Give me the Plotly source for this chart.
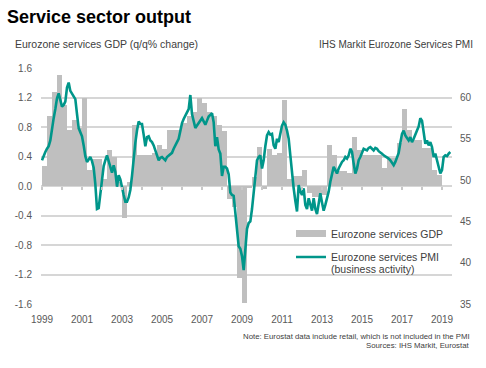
import plotly.graph_objects as go

# ---------------- data ----------------
gdp_start_year = 1999
# Eurozone services GDP, q/q % change, 1999Q1 .. 2018Q4
gdp_values = [
    0.27, 0.95, 1.27, 1.51,    # 1999
    1.10, 0.76, 0.89, 0.78,    # 2000
    1.20, 0.22, 0.36, 0.36,    # 2001
    0.10, 0.49, 0.40, 0.06,    # 2002
    -0.44, 0.06, 0.83, 0.42,   # 2003
    0.42, 0.42, 0.45, 0.55,    # 2004
    0.50, 0.76, 0.76, 0.76,    # 2005
    0.85, 0.95, 1.00, 1.20,    # 2006
    1.12, 1.00, 0.95, 0.83,    # 2007
    0.75, -0.17, -0.28, -1.25, # 2008
    -1.58, -0.02, 0.12, 0.53,  # 2009
    -0.04, 0.50, 0.42, 0.45,   # 2010
    1.17, 0.10, 0.13, 0.14,    # 2011
    0.22, -0.10, -0.15, -0.15, # 2012
    -0.12, 0.56, 0.42, 0.20,   # 2013
    0.20, 0.17, 0.67, 0.49,    # 2014
    0.42, 0.42, 0.42, 0.42,    # 2015
    0.24, 0.38, 0.38, 0.58,    # 2016
    1.04, 0.76, 0.62, 0.62,    # 2017
    0.51, 0.51, 0.22, 0.15,    # 2018
]

pmi_start_year = 1999
# IHS Markit Eurozone Services PMI (business activity), monthly from Jan 1999
pmi_values = [
    52.4, 53.0, 53.4, 53.8, 54.1, 54.8, 56.5, 57.5, 58.6, 59.9, 60.5, 59.5,  # 1999
    58.9, 59.1, 59.5, 61.2, 61.8, 60.8, 60.5, 60.1, 59.8, 58.0, 56.3, 55.8,  # 2000
    55.3, 54.2, 52.9, 52.2, 52.5, 52.8, 52.3, 51.5, 49.5, 46.5, 46.6, 48.2,  # 2001
    50.5, 51.7, 52.4, 53.0, 52.3, 51.5, 50.9, 51.8, 51.0, 49.2, 50.6, 50.1,  # 2002
    49.0, 48.2, 47.4, 47.4, 47.9, 48.8, 50.5, 52.8, 54.5, 56.0, 57.1, 56.8,  # 2003
    56.8, 55.5, 54.1, 55.2, 55.3, 54.8, 54.6, 54.2, 53.6, 52.9, 52.4, 52.7,  # 2004
    52.8, 52.6, 52.4, 52.8, 53.0, 53.1, 53.3, 53.8, 54.3, 54.6, 55.0, 56.0,  # 2005
    56.9, 57.4, 57.9, 58.2, 58.6, 60.3, 58.0, 57.0, 56.3, 56.6, 56.9, 57.2,  # 2006
    57.5, 57.1, 56.7, 57.2, 57.7, 57.9, 58.1, 57.0, 54.1, 55.2, 53.7, 53.2,  # 2007
    50.5, 51.6, 51.6, 51.4, 50.7, 48.5, 48.2, 48.1, 46.0, 43.5, 42.0, 41.7,  # 2008
    40.8, 39.1, 41.5, 44.1, 44.8, 45.0, 46.5, 48.3, 50.0, 52.4, 52.8, 53.0,  # 2009
    51.4, 52.4, 54.1, 55.4, 55.8, 55.5, 55.6, 54.2, 53.8, 55.0, 54.6, 55.8,  # 2010
    56.6, 57.0, 56.7, 56.0, 55.0, 53.0, 50.6, 49.0, 47.5, 46.2, 49.4, 48.6,  # 2011
    48.2, 49.0, 47.0, 46.5, 47.8, 47.0, 46.3, 47.8, 46.5, 45.9, 47.0, 48.4,  # 2012
    47.3, 46.3, 47.0, 47.8, 48.6, 49.8, 50.8, 51.6, 51.2, 50.8, 51.4, 51.8,  # 2013
    52.2, 52.4, 52.8, 52.6, 53.0, 53.8, 53.4, 52.0, 50.8, 51.4, 52.4, 52.8,  # 2014
    53.4, 53.8, 53.7, 53.6, 53.9, 54.0, 53.8, 53.6, 53.9, 53.8, 53.5, 53.4,  # 2015
    53.2, 53.0, 52.9, 52.8, 52.6, 52.4, 52.1, 51.8, 52.2, 52.7, 53.3, 54.5,  # 2016
    55.6, 56.0, 55.4, 55.1, 54.8, 55.2, 54.6, 55.0, 55.4, 56.0, 56.5, 57.5,  # 2017
    57.2, 55.8, 54.4, 54.8, 54.2, 54.6, 54.0, 52.8, 53.2, 52.4, 51.6, 50.8,  # 2018
    51.2, 52.8, 53.0, 52.9, 53.2, 53.4,                                      # 2019
]

year_ticks = list(range(1999, 2020, 2))
year_labels = [str(y) for y in year_ticks]
gdp_ticks = [-1.6, -1.2, -0.8, -0.4, 0.0, 0.4, 0.8, 1.2, 1.6]
pmi_ticks = [35, 40, 45, 50, 55, 60]

title_text = "Service sector output"
left_title = "Eurozone services GDP (q/q% change)"
right_title = "IHS Markit Eurozone Services PMI"
gdp_name = "Eurozone services GDP"
pmi_name = "Eurozone services PMI"
pmi_name_2 = "(business activity)"
note_text = "Note: Eurostat data include retail, which is not included in the PMI"
source_text = "Sources: IHS Markit, Eurostat"

# ---------------- derived x positions ----------------
gdp_x = [gdp_start_year + i * 0.25 + 0.125 for i in range(len(gdp_values))]
pmi_x = [pmi_start_year + i / 12 for i in range(len(pmi_values))]

# ---------------- layout geometry ----------------
W, H = 486, 368
L, R, T, B = 41, 452, 68, 304
BAR_COLOR = "#BFBFBF"
LINE_COLOR = "#00968A"
GRID = "#D6D6D6"
FONT = "Liberation Sans, Arial, sans-serif"
XRANGE = [1998.95, 2019.5]


def px(x):
    return (x - L) / (R - L)


def py(y):
    return (B - y) / (B - T)


fig = go.Figure()
fig.add_trace(go.Bar(
    x=gdp_x, y=gdp_values, width=0.25,
    marker=dict(color=BAR_COLOR, line=dict(width=0)),
    showlegend=False, yaxis="y", hoverinfo="skip",
))
# legend entry for bars (thick grey line symbol as in the reference)
fig.add_trace(go.Scatter(
    x=[None], y=[None], mode="lines", name=gdp_name,
    line=dict(color=BAR_COLOR, width=7), yaxis="y", legend="legend",
))
fig.add_trace(go.Scatter(
    x=pmi_x, y=pmi_values, mode="lines", name=pmi_name,
    line=dict(color=LINE_COLOR, width=2.6), yaxis="y2", legend="legend2",
    hoverinfo="skip",
))
# helper axis carrying the small yearly tick marks on the zero line
fig.add_trace(go.Scatter(
    x=[None], y=[None], xaxis="x2", yaxis="y", showlegend=False, hoverinfo="skip",
))

pmi_top = 35 + 25 * 3.2 / 2.8
legend_common = dict(
    xanchor="left", yanchor="middle", bgcolor="rgba(0,0,0,0)",
    font=dict(size=10.5, color="#404040"), itemwidth=30,
)

fig.update_layout(
    width=W, height=H,
    margin=dict(l=L, r=W - R, t=T, b=H - B, pad=0),
    paper_bgcolor="white", plot_bgcolor="white",
    font=dict(family=FONT, size=10, color="#595959"),
    bargap=0,
    xaxis=dict(
        range=XRANGE, tickvals=year_ticks, ticktext=year_labels,
        showgrid=False, zeroline=False, showline=False, ticks="",
        ticklabelstandoff=8, tickfont=dict(size=10, color="#595959"),
    ),
    xaxis2=dict(
        range=XRANGE, overlaying="x", anchor="free", position=0.5,
        tick0=1999, dtick=1, ticks="outside", ticklen=3, tickwidth=1.5, tickcolor="#C8C8C8",
        showticklabels=False, showgrid=False, zeroline=False, showline=False,
    ),
    yaxis=dict(
        range=[-1.6, 1.6], tickvals=gdp_ticks,
        ticktext=[f"{v:.1f}" for v in gdp_ticks],
        showgrid=True, gridcolor=GRID, gridwidth=1.5, zeroline=False,
        showline=False, ticks="", ticklabelstandoff=8,
        tickfont=dict(size=10, color="#595959"),
    ),
    yaxis2=dict(
        range=[35, pmi_top], tickvals=pmi_ticks, overlaying="y", side="right",
        showgrid=False, zeroline=False, showline=False, ticks="",
        ticklabelstandoff=7, tickfont=dict(size=10, color="#595959"),
    ),
    legend=dict(x=px(291), y=py(233.5), **legend_common),
    legend2=dict(x=px(291), y=py(257), **legend_common),
)

annotations = [
    dict(text=f"<b>{title_text}</b>", x=px(5), y=py(17), xanchor="left", yanchor="middle",
         font=dict(size=18, color="#000000")),
    dict(text=left_title, x=px(13), y=py(44), xanchor="left", yanchor="middle",
         font=dict(size=10.5, color="#404040")),
    dict(text=right_title, x=px(475), y=py(44), xanchor="right", yanchor="middle",
         font=dict(size=10, color="#404040")),
    dict(text=pmi_name_2, x=px(329), y=py(268.5), xanchor="left", yanchor="middle",
         font=dict(size=10.5, color="#404040")),
    dict(text=note_text, x=px(472), y=py(336), xanchor="right", yanchor="middle",
         font=dict(size=7.8, color="#404040")),
    dict(text=source_text, x=px(472), y=py(345.5), xanchor="right", yanchor="middle",
         font=dict(size=7.8, color="#404040")),
]
for a in annotations:
    a.update(xref="paper", yref="paper", showarrow=False)
fig.update_layout(annotations=annotations)

fig.write_html("out.html", post_script="document.body.style.margin='0';",
               config={"displayModeBar": False})
